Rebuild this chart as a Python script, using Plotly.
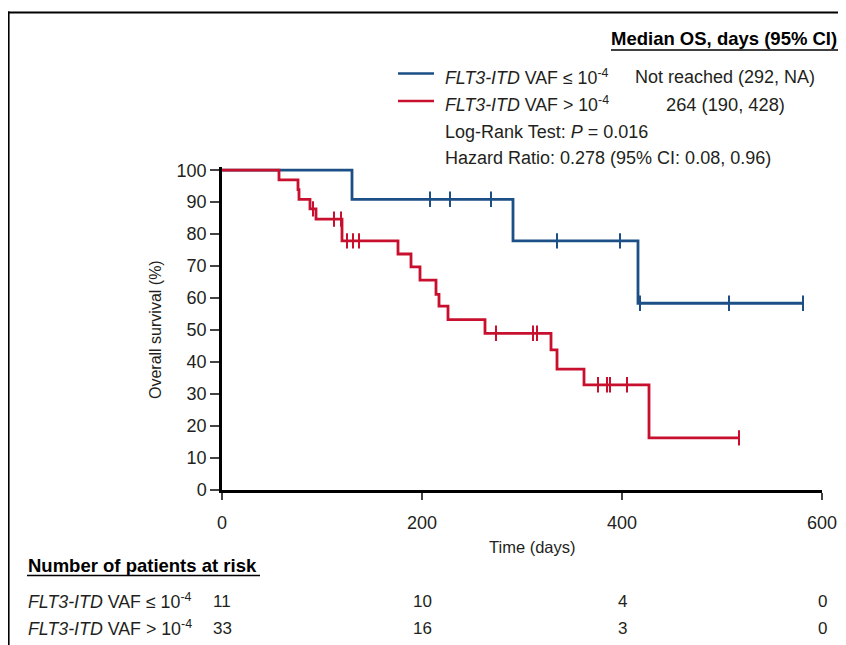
import plotly.graph_objects as go

# ---------------- data ----------------
blue_name = "<i>FLT3-ITD</i> VAF ≤ 10<sup>-4</sup>"
red_name = "<i>FLT3-ITD</i> VAF > 10<sup>-4</sup>"

blue_event_days = [130, 291, 416]
blue_surv = [90.9, 77.9, 58.4]
blue_censor_days = [208, 228, 269, 335, 398, 418, 507, 581]

red_event_days = [57, 76, 77, 88, 94, 120, 176, 189, 198, 214, 217, 226, 263, 329, 335, 362, 427]
red_surv = [97.0, 93.9, 90.9, 87.9, 84.7, 77.9, 73.8, 69.8, 65.6, 61.2, 57.5, 53.3, 49.0, 43.8, 37.8, 32.9, 16.3]
red_censor_days = [91, 112, 119, 125, 131, 137, 274, 311, 315, 376, 385, 388, 405, 517]

risk_days = [0, 200, 400, 600]
risk_blue = [11, 10, 4, 0]
risk_red = [33, 16, 3, 0]

x_ticks = [0, 200, 400, 600]
y_ticks = [0, 10, 20, 30, 40, 50, 60, 70, 80, 90, 100]

median_blue = "Not reached (292, NA)"
median_red = "264 (190, 428)"
logrank_text = "Log-Rank Test: <i>P</i> = 0.016"
hr_text = "Hazard Ratio: 0.278 (95% CI: 0.08, 0.96)"

BLUE = "#1c4f86"
RED = "#c8102e"
INK = "#231f20"
REG = "Liberation Sans, Arial, Helvetica, sans-serif"

# ---------------- layout geometry (page has an 8px body margin) ----------------
OFF = 8
W, H = 846 - OFF, 645 - OFF
ML, MR, MT, MB = 214, 24, 159, 155
PW = W - ML - MR
PH = H - MT - MB


def fx(px):
    return (px - OFF - ML) / PW


def fy(py):
    return (H - MB - (py - OFF)) / PH


def step_xy(events, surv, end):
    xs = [0] + list(events) + [end]
    ys = [100] + list(surv) + [surv[-1]]
    return xs, ys


def level_at(t, events, surv):
    lv = 100
    for e, s in zip(events, surv):
        if e <= t:
            lv = s
    return lv


fig = go.Figure()

for events, surv, cens, col, name in [
    (blue_event_days, blue_surv, blue_censor_days, BLUE, blue_name),
    (red_event_days, red_surv, red_censor_days, RED, red_name),
]:
    xs, ys = step_xy(events, surv, max(cens))
    fig.add_trace(go.Scatter(x=xs, y=ys, mode="lines", line=dict(color=col, width=2.8, shape="hv"),
                             name=name, showlegend=False, cliponaxis=False))
    fig.add_trace(go.Scatter(x=cens, y=[level_at(t, events, surv) for t in cens], mode="markers",
                             marker=dict(symbol="line-ns", size=11, line=dict(color=col, width=2)),
                             showlegend=False, cliponaxis=False))

fig.update_xaxes(range=[0, 600], tickvals=x_ticks, ticks="outside", ticklen=7, tickwidth=2,
                 showline=True, linewidth=2.5, linecolor="black", showgrid=False, zeroline=False,
                 ticklabelstandoff=8,
                 tickfont=dict(family=REG, size=18, color=INK))
fig.update_yaxes(range=[0, 101], tickvals=y_ticks, ticks="outside", ticklen=9, tickwidth=2,
                 showline=True, linewidth=2.5, linecolor="black", showgrid=False, zeroline=False,
                 tickfont=dict(family=REG, size=18, color=INK))

ann = []


def add(text, x, y, xanchor="left", font=None, xref="paper", **kw):
    ann.append(dict(text=text, x=x if xref != "paper" else fx(x), y=fy(y), xref=xref, yref="paper",
                    xanchor=xanchor, yanchor="middle", showarrow=False, font=font, **kw))


# axis titles
add("Overall survival (%)", 155, 330, xanchor="center", textangle=-90,
    font=dict(family=REG, size=16, color=INK))
add("Time (days)", 532, 547, xanchor="center", font=dict(family=REG, size=16.5, color=INK))

# legend block
add("<b>Median OS, days (95% CI)</b>", 839, 38.5, xanchor="right", font=dict(family=REG, size=18.5, color="black"))
add(blue_name, 443, 76.5, font=dict(family=REG, size=17.8, color=INK))
add(red_name, 443, 104, font=dict(family=REG, size=17.8, color=INK))
add(median_blue, 725, 76.5, xanchor="center", font=dict(family=REG, size=18, color=INK))
add(median_red, 725, 104.5, xanchor="center", font=dict(family=REG, size=18.3, color=INK))
add(logrank_text, 443, 132, font=dict(family=REG, size=18, color=INK))
add(hr_text, 443, 157.5, font=dict(family=REG, size=18, color=INK))

# at-risk table
add("<b>Number of patients at risk</b>", 26, 565, font=dict(family=REG, size=18.5, color="black"))
add(blue_name, 26, 601, font=dict(family=REG, size=17.8, color=INK))
add(red_name, 26, 628, font=dict(family=REG, size=17.8, color=INK))
for d, nb, nr in zip(risk_days, risk_blue, risk_red):
    add(str(nb), d, 601, xanchor="center", xref="x", font=dict(family=REG, size=17, color=INK))
    add(str(nr), d, 628, xanchor="center", xref="x", font=dict(family=REG, size=17, color=INK))

shapes = []


def hline(x0, x1, y, color, width):
    shapes.append(dict(type="line", xref="paper", yref="paper", x0=fx(x0), x1=fx(x1), y0=fy(y), y1=fy(y),
                       line=dict(color=color, width=width)))


# legend line samples
hline(398, 434, 73.5, BLUE, 2.5)
hline(398, 434, 101, RED, 2.5)
# underlines
hline(611, 838, 50, "black", 1.5)
hline(27, 260, 575.5, "black", 1.5)
# frame
shapes.append(dict(type="line", xref="paper", yref="paper", x0=fx(8.5), x1=fx(8.5), y0=fy(11.5), y1=fy(660),
                   line=dict(color="black", width=2.2)))
hline(7.5, 860, 12.5, "black", 2.2)

fig.update_layout(width=W, height=H, margin=dict(l=ML, r=MR, t=MT, b=MB, autoexpand=False),
                  paper_bgcolor="white", plot_bgcolor="white", annotations=ann, shapes=shapes,
                  showlegend=False)

fig.write_html("out.html")
